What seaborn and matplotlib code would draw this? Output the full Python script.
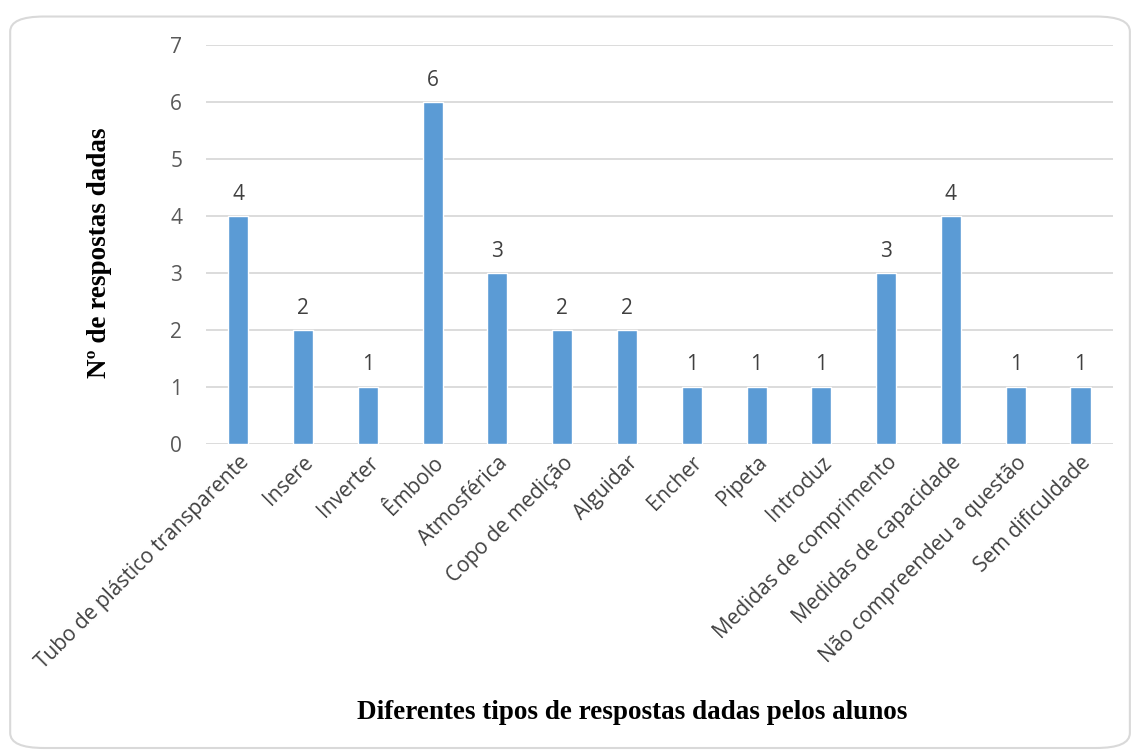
import matplotlib
matplotlib.use("Agg")
import matplotlib.pyplot as plt
from matplotlib.patches import FancyBboxPatch
import seaborn as sns
import pandas as pd

categorias = [
    "Tubo de plástico transparente", "Insere", "Inverter", "Êmbolo",
    "Atmosférica", "Copo de medição", "Alguidar", "Encher", "Pipeta",
    "Introduz", "Medidas de comprimento", "Medidas de capacidade",
    "Não compreendeu a questão", "Sem dificuldade",
]
respostas = [4, 2, 1, 6, 3, 2, 2, 1, 1, 1, 3, 4, 1, 1]
yticks = [0, 1, 2, 3, 4, 5, 6, 7]

df = pd.DataFrame({"categoria": categorias, "respostas": respostas})

sns.set_theme(style="white")
plt.rcParams["font.family"] = ["Open Sans", "DejaVu Sans"]

fig = plt.figure(figsize=(11.31, 7.51), dpi=100)
ax = fig.add_axes([0.182, 0.409, 0.802, 0.531])

# rounded outer frame
frame = FancyBboxPatch((0.009, 0.004), 0.99, 0.974,
                       boxstyle="round,pad=0,rounding_size=0.03",
                       transform=fig.transFigure, facecolor="white",
                       edgecolor="#D9D9D9", linewidth=1.5, zorder=-10,
                       mutation_aspect=751 / 1131)
fig.patches.append(frame)

sns.barplot(data=df, x="categoria", y="respostas", color="#5B9BD5",
            saturation=1, width=0.31, ax=ax, zorder=3)

ax.set_ylim(0, 7)
ax.set_yticks(yticks)
ax.set_yticklabels([str(v) for v in yticks], fontsize=15, color="#595959")
ax.yaxis.grid(True, color="#D9D9D9", linewidth=1.3, zorder=0)
ax.set_axisbelow(True)
for s in ax.spines.values():
    s.set_visible(False)
ax.tick_params(axis="both", length=0)
ax.tick_params(axis="y", pad=17)
ax.tick_params(axis="x", pad=6)
ax.set_xlim(-0.5, len(categorias) - 0.5)

ax.set_xticks(range(len(categorias)))
ax.set_xticklabels(categorias, rotation=45, ha="right", rotation_mode="anchor",
                   fontsize=15, color="#404040")

for p, v in zip(ax.patches, respostas):
    ax.text(p.get_x() + p.get_width() / 2, v + 0.2, str(v),
            ha="center", va="bottom", fontsize=15, color="#404040")

ax.set_xlabel("")
ax.set_ylabel("")
fig.text(0.559, 0.051, "Diferentes tipos de respostas dadas pelos alunos",
         ha="center", va="center", fontsize=19.5, fontweight="bold",
         family="Liberation Serif", color="black")
fig.text(0.088, 0.664, "Nº de respostas dadas", rotation=90,
         ha="center", va="center", fontsize=19.5, fontweight="bold",
         family="Liberation Serif", color="black")

fig.savefig("out.png", dpi=100, facecolor="white")
